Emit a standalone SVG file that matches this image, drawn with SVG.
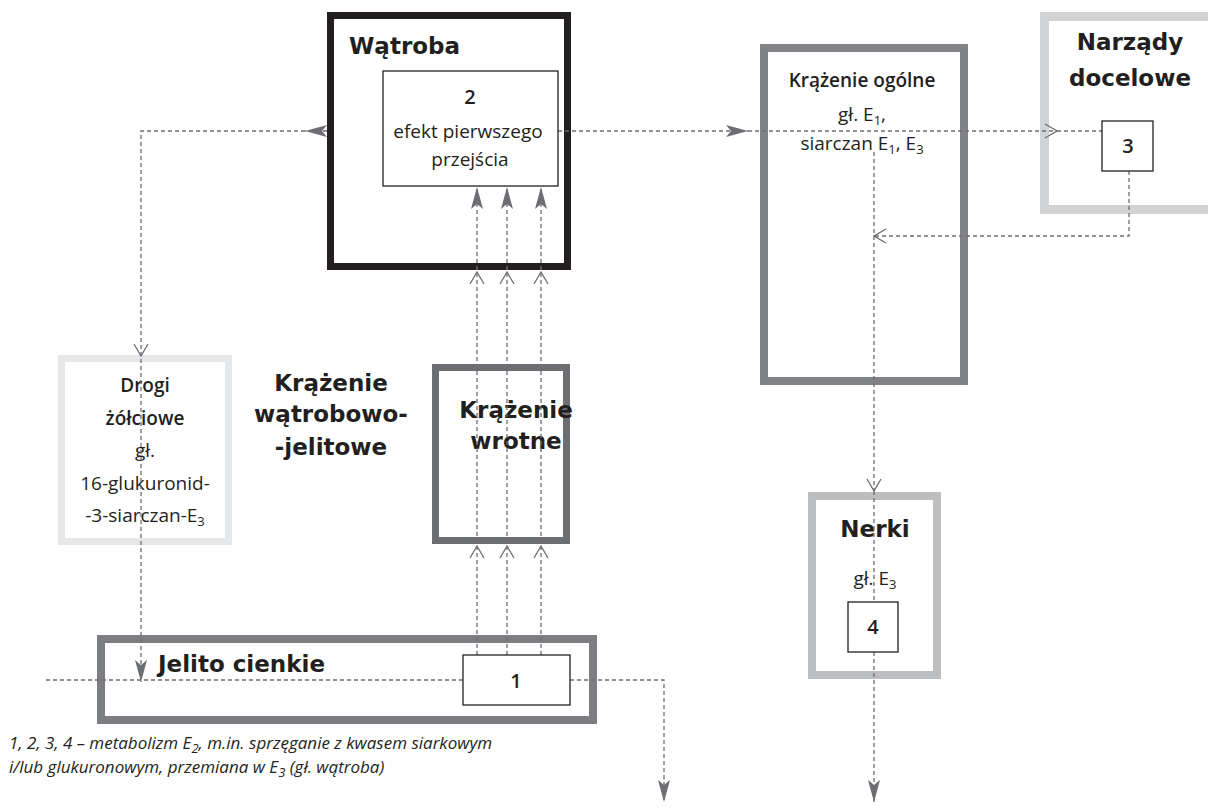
<svg xmlns="http://www.w3.org/2000/svg" width="1208" height="809" viewBox="0 0 1208 809">
<style>
.bg{fill:#ffffff}
.box{fill:#ffffff}
.inner{fill:#ffffff;stroke:#231f20;stroke-width:1.3}
.dash{fill:none;stroke:#6d6e71;stroke-width:1.3;stroke-dasharray:4 3}
.ghost{fill:none;stroke:none}
.h{font-family:"DejaVu Sans","Liberation Sans",sans-serif;font-weight:700;font-size:23px;fill:#231f20;text-anchor:middle}
.m{font-family:"Open Sans","Liberation Sans",sans-serif;font-weight:600;font-size:19px;fill:#231f20;text-anchor:middle}
.l{font-family:"Open Sans","Liberation Sans",sans-serif;font-weight:400;font-size:19px;fill:#231f20;text-anchor:middle}
.num{font-family:"Open Sans","Liberation Sans",sans-serif;font-weight:600;font-size:20px;fill:#231f20;text-anchor:middle}
.note{font-family:"Open Sans","Liberation Sans",sans-serif;font-style:italic;font-size:17px;fill:#231f20}
.sub{font-size:13px}
</style>
<defs>
<marker id="fill" markerUnits="userSpaceOnUse" viewBox="0 0 22 12" refX="22" refY="6" markerWidth="22" markerHeight="12" orient="auto">
<path d="M0,0 L22,6 L0,12 L5,6 Z" fill="#6d6e71"/>
</marker>
<marker id="open" markerUnits="userSpaceOnUse" viewBox="0 0 14 16" refX="13" refY="8" markerWidth="14" markerHeight="16" orient="auto">
<path d="M1,1 L13,8 L1,15" fill="none" stroke="#6d6e71" stroke-width="1.3"/>
</marker>
</defs>
<rect class="bg" x="0" y="0" width="1208" height="809"/>

<g id="watroba">
<rect class="box" x="330.5" y="15.5" width="237" height="251" stroke="#231f20" stroke-width="7"/>
<text class="h" x="349" y="54" style="text-anchor:start">Wątroba</text>
</g>
<g id="krazenie-ogolne">
<rect class="box" x="764" y="48" width="200" height="333" stroke="#808285" stroke-width="8"/>
<text class="m" x="862" y="87">Krążenie ogólne</text>
<text class="l" x="862" y="121">gł. E<tspan class="sub" dy="4">1</tspan><tspan dy="-4">,</tspan></text>
<text class="l" x="862" y="150">siarczan E<tspan class="sub" dy="4">1</tspan><tspan dy="-4">, E</tspan><tspan class="sub" dy="4">3</tspan></text>
</g>
<g id="narzady">
<rect class="box" x="1044.5" y="16.5" width="200" height="193" stroke="#d1d3d4" stroke-width="9"/>
<text class="h" x="1130" y="50">Narządy</text>
<text class="h" x="1130" y="86">docelowe</text>
</g>
<g id="drogi">
<rect class="box" x="61.5" y="358.5" width="167" height="183" stroke="#e6e7e8" stroke-width="7"/>
<text class="m" x="145" y="392">Drogi</text>
<text class="m" x="145" y="425">żółciowe</text>
<text class="l" x="145" y="457">gł.</text>
<text class="l" x="145" y="490">16-glukuronid-</text>
<text class="l" x="145" y="522">-3-siarczan-E<tspan class="sub" dy="4">3</tspan></text>
</g>
<g id="watrobowo-jelitowe">
<text class="h" x="331" y="391">Krążenie</text>
<text class="h" x="331" y="422">wątrobowo-</text>
<text class="h" x="331" y="455">-jelitowe</text>
</g>
<g id="wrotne">
<rect class="box" x="435.5" y="367.5" width="131" height="173" stroke="#6d6e71" stroke-width="7"/>
<text class="h" x="516" y="418">Krążenie</text>
<text class="h" x="516" y="449">wrotne</text>
</g>
<g id="nerki">
<rect class="box" x="812" y="496" width="125" height="179" stroke="#bcbec0" stroke-width="8"/>
<text class="h" x="875" y="537">Nerki</text>
<text class="l" x="875" y="585">gł. E<tspan class="sub" dy="4">3</tspan></text>
</g>
<g id="jelito">
<rect class="box" x="101" y="639" width="492" height="81" stroke="#7d7e81" stroke-width="8"/>
<text class="h" x="158" y="672" style="text-anchor:start">Jelito cienkie</text>
</g>

<g id="connectors">
<path class="dash" d="M327,131 H305" marker-end="url(#fill)"/>
<path class="dash" d="M305,131 H141 V682" marker-end="url(#fill)"/>
<path class="ghost" d="M141,340 V356" marker-end="url(#open)"/>
<path class="dash" d="M551,131 H748" marker-end="url(#fill)"/>
<path class="dash" d="M748,131 H1057" marker-end="url(#open)"/>
<path class="dash" d="M1057,131 H1102"/>
<path class="dash" d="M1129,171 V236 H874" marker-end="url(#open)"/>
<path class="dash" d="M874,152 V491" marker-end="url(#open)"/>
<path class="dash" d="M874,491 V602"/>
<path class="dash" d="M874,652 V802" marker-end="url(#fill)"/>
<path class="dash" d="M477,655 V187" marker-end="url(#fill)"/>
<path class="dash" d="M507,655 V187" marker-end="url(#fill)"/>
<path class="dash" d="M541,655 V187" marker-end="url(#fill)"/>
<path class="ghost" d="M477,290 V272" marker-end="url(#open)"/>
<path class="ghost" d="M507,290 V272" marker-end="url(#open)"/>
<path class="ghost" d="M541,290 V272" marker-end="url(#open)"/>
<path class="ghost" d="M477,565 V546" marker-end="url(#open)"/>
<path class="ghost" d="M507,565 V546" marker-end="url(#open)"/>
<path class="ghost" d="M541,565 V546" marker-end="url(#open)"/>
<path class="dash" d="M46,680 H463"/>
<path class="dash" d="M570,680 H664 V802" marker-end="url(#fill)"/>
</g>

<g id="box2">
<rect class="inner" x="383" y="71" width="175" height="115"/>
<text class="num" x="470" y="104">2</text>
<text class="l" x="468" y="138">efekt pierwszego</text>
<text class="l" x="470" y="166">przejścia</text>
</g>
<g id="box3">
<rect class="inner" x="1102" y="121" width="51" height="50"/>
<text class="num" x="1128" y="153">3</text>
</g>
<g id="box4">
<rect class="inner" x="848" y="602" width="50" height="50"/>
<text class="num" x="873" y="634">4</text>
</g>
<g id="box1">
<rect class="inner" x="463" y="655" width="107" height="50"/>
<text class="num" x="516" y="688">1</text>
</g>

<g id="note">
<text class="note" x="9" y="749">1, 2, 3, 4 – metabolizm E<tspan class="sub" dy="4">2</tspan><tspan dy="-4">, m.in. sprzęganie z kwasem siarkowym</tspan></text>
<text class="note" x="9" y="773">i/lub glukuronowym, przemiana w E<tspan class="sub" dy="4">3</tspan><tspan dy="-4"> (gł. wątroba)</tspan></text>
</g>
</svg>
